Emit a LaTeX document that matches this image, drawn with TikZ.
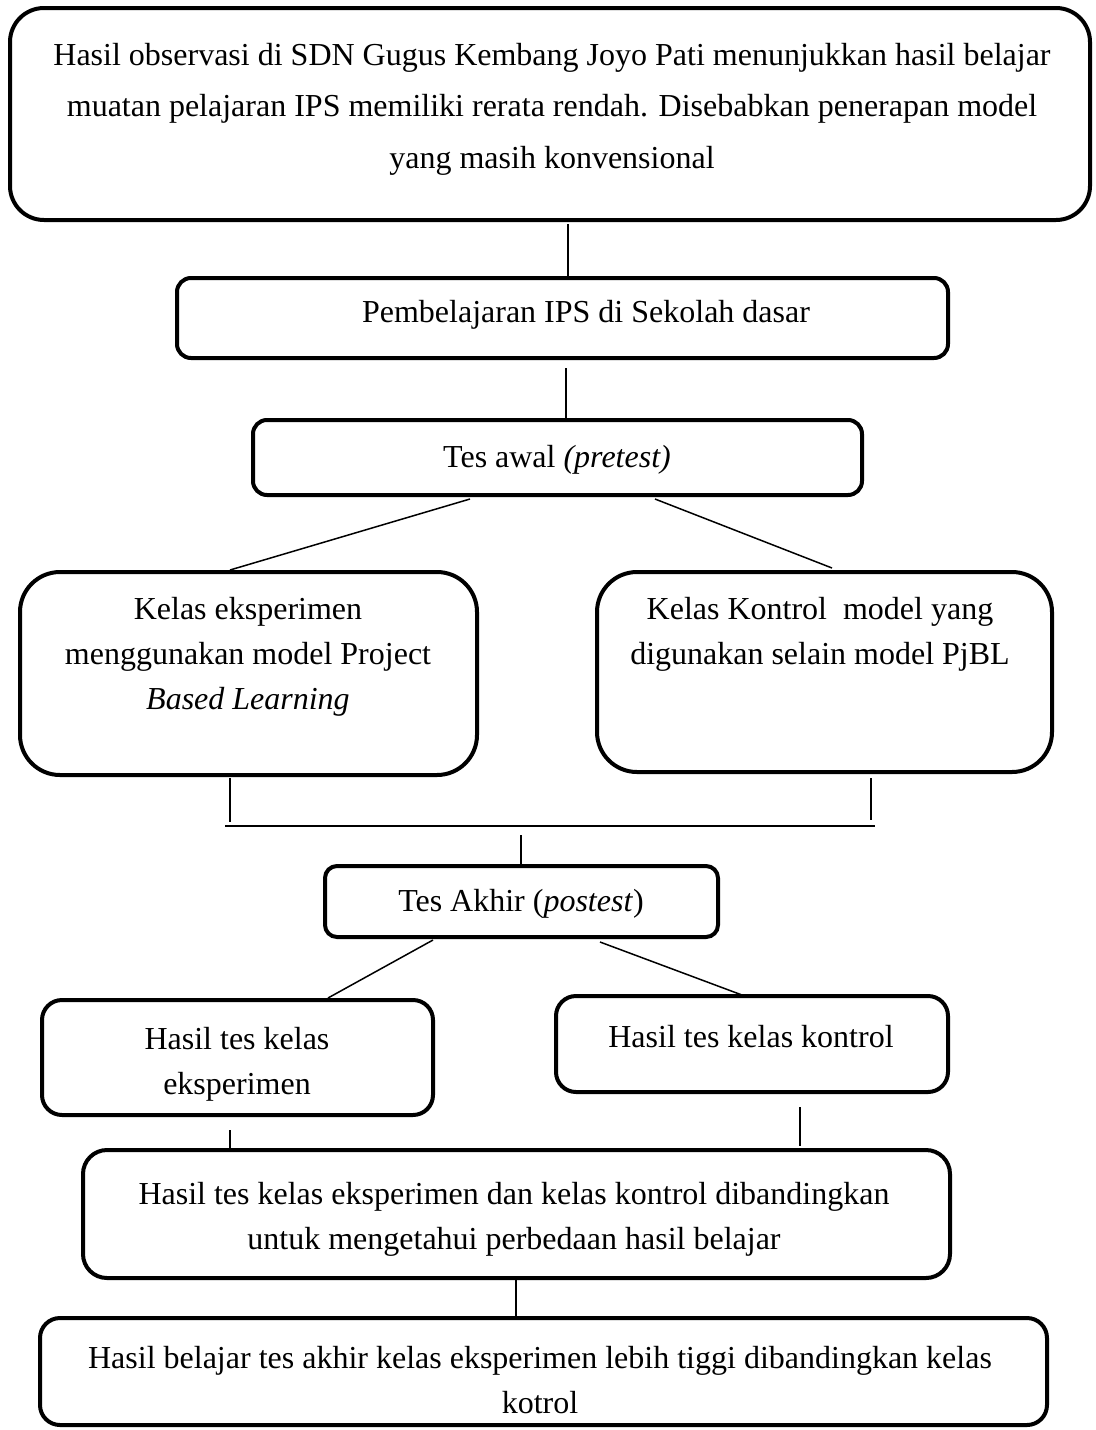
\documentclass[tikz,border=0pt]{standalone}
\usepackage{fontspec}
\setmainfont{Liberation Serif}
\usetikzlibrary{calc}
\begin{document}
\begin{tikzpicture}[x=0.5pt,y=-0.5pt,
  box/.style={draw,line width=2pt,inner sep=0pt},
  conn/.style={draw,line width=0.75pt},
  txt/.style={align=center,inner sep=0pt,font=\fontsize{16}{22.5}\selectfont}]
\useasboundingbox (0,0) rectangle (1096,1430);
% boxes
\node[box,rounded corners=17pt,minimum width=540pt,minimum height=106pt] (b1) at (550,114) {};
\node[box,rounded corners=7pt,minimum width=385.5pt,minimum height=40pt] (b2) at (562.5,318) {};
\node[box,rounded corners=7pt,minimum width=304.5pt,minimum height=37.5pt] (b3) at (557.5,457.5) {};
\node[box,rounded corners=20pt,minimum width=228.5pt,minimum height=101.5pt] (b4) at (248.5,673.5) {};
\node[box,rounded corners=20pt,minimum width=227.5pt,minimum height=100pt] (b5) at (824.5,672) {};
\node[box,rounded corners=6pt,minimum width=196.5pt,minimum height=35.5pt] (b6) at (521.5,901.5) {};
\node[box,rounded corners=10pt,minimum width=195.5pt,minimum height=57.5pt] (b7) at (237.5,1057.5) {};
\node[box,rounded corners=10pt,minimum width=196pt,minimum height=48pt] (b8) at (752,1044) {};
\node[box,rounded corners=12pt,minimum width=433.5pt,minimum height=64pt] (b9) at (516.5,1214) {};
\node[box,rounded corners=10pt,minimum width=503.5pt,minimum height=53.5pt] (b10) at (543.5,1371.5) {};
% texts
\node[txt,font=\fontsize{16}{25.75}\selectfont] (t1) at (552,109) {Hasil observasi di SDN Gugus Kembang Joyo Pati menunjukkan hasil belajar\\muatan pelajaran IPS memiliki rerata rendah. Disebabkan penerapan model\\yang masih konvensional};
\node[txt] (t2) at (586,315) {Pembelajaran IPS di Sekolah dasar};
\node[txt] (t3) at (557,460) {Tes awal \textit{(pretest)}};
\node[txt] (t4) at (248,657) {Kelas eksperimen\\menggunakan model Project\\\textit{Based Learning}};
\node[txt] (t5) at (820,634) {Kelas Kontrol\ \ model yang\\digunakan selain model PjBL};
\node[txt] (t6) at (521,904) {Tes Akhir (\textit{postest})};
\node[txt] (t7) at (237,1064) {Hasil tes kelas\\eksperimen};
\node[txt] (t8) at (751,1037) {Hasil tes kelas kontrol};
\node[txt] (t9) at (514,1219) {Hasil tes kelas eksperimen dan kelas kontrol dibandingkan\\untuk mengetahui perbedaan hasil belajar};
\node[txt] (t10) at (540,1380) {Hasil belajar tes akhir kelas eksperimen lebih tiggi dibandingkan kelas\\kotrol};
% connector coordinates
\coordinate (barL) at (225,826);
\coordinate (barR) at (875,826);
% connectors
\draw[conn] ($(b1.south -| 568,0)+(0,2)$) -- (b2.north -| 568,0);
\draw[conn] ($(b2.south -| 566,0)+(0,8)$) -- (b3.north -| 566,0);
\draw[conn] ($(b3.south -| 470,0)+(0,2)$) -- (b4.north -| 230,0);
\draw[conn] ($(b3.south -| 655,0)+(0,2)$) -- ($(b5.north -| 832,0)+(0,-2)$);
\draw[conn] ($(b4.south -| 230,0)+(0,1)$) -- ($(barL -| 230,0)+(0,-4)$);
\draw[conn] ($(b5.south -| 871,0)+(0,4)$) -- ($(barR -| 871,0)+(0,-6)$);
\draw[conn] (barL) -- (barR);
\draw[conn] ($(barL -| 521,0)+(0,9)$) -- (b6.north -| 521,0);
\draw[conn] ($(b6.south -| 433,0)+(0,1)$) -- ($(b7.north -| 328,0)$);
\draw[conn] ($(b6.south -| 600,0)+(0,3)$) -- ($(b8.north -| 742,0)+(0,1)$);
\draw[conn] ($(b7.south -| 230,0)+(0,13)$) -- ($(b9.north -| 230,0)+(0,2)$);
\draw[conn] ($(b8.south -| 800,0)+(0,13)$) -- ($(b9.north -| 800,0)+(0,-2)$);
\draw[conn] (b9.south -| 516,0) -- (b10.north -| 516,0);
\end{tikzpicture}
\end{document}
